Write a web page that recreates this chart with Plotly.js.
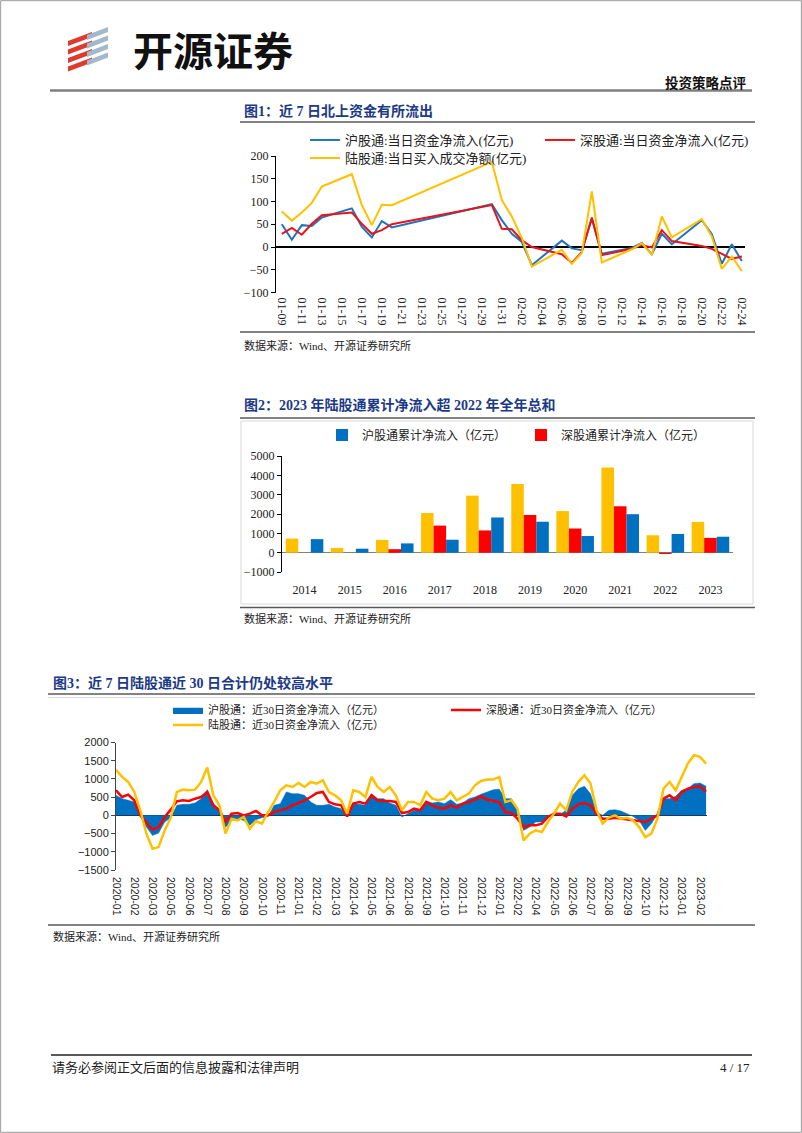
<!DOCTYPE html>
<html><head><meta charset="utf-8">
<script src="https://cdn.plot.ly/plotly-3.0.1.min.js"></script>
<style>html,body{margin:0;padding:0;background:#fff;}#page{width:802px;height:1133px;}</style>
</head><body><div id="page"></div>
<script>
// ---------- Chart 1 data: daily northbound net flows (亿元) ----------
const dates1 = ['2023-01-09','2023-01-10','2023-01-11','2023-01-12','2023-01-13','2023-01-16','2023-01-17','2023-01-18','2023-01-19','2023-01-20','2023-01-30','2023-01-31','2023-02-01','2023-02-02','2023-02-03','2023-02-06','2023-02-07','2023-02-08','2023-02-09','2023-02-10','2023-02-13','2023-02-14','2023-02-15','2023-02-16','2023-02-17','2023-02-20','2023-02-21','2023-02-22','2023-02-23','2023-02-24'];
const sh1 = [50,16,48,46,65,85,44,21,57,43,94,59,29,11,-40,14,-3,-7,62,-15,-2,9,-16,29,6,59,28,-37,6,-31];
const sz1 = [29,42,27,51,70,76,51,29,37,50,92,40,39,15,0,-16,-35,-11,65,-18,-4,4,-1,37,13,2,-4,-15,-26,-21];
const hk1 = [78,58,76,97,133,160,92,48,93,92,187,103,67,20,-43,-6,-37,-13,122,-34,-5,8,-17,67,21,61,23,-48,-21,-53];

// ---------- Chart 2 data: yearly cumulative net inflow (亿元) ----------
const years2 = ['2014','2015','2016','2017','2018','2019','2020','2021','2022','2023'];
const hk2 = [730,240,660,2050,2950,3550,2150,4400,900,1590];
const sz2 = [0,0,180,1400,1150,1950,1250,2400,-68,765];
const sh2 = [700,205,480,670,1820,1600,860,1990,968,825];

// ---------- Chart 3 data: rolling 30-day net inflow (亿元), sampled ----------
const sh3 = [550,458,413,367,-28,-321,-550,-486,-183,-64,275,303,303,339,458,706,321,138,-330,-138,-92,-138,-275,-119,-64,
  -28,275,321,642,596,596,550,367,275,275,303,229,183,0,321,303,275,596,458,458,339,275,-46,46,
  138,156,394,339,367,321,431,303,339,458,504,578,640,700,720,458,458,183,-413,-321,-183,-183,-46,46,
  28,138,550,733,797,596,92,0,138,156,119,46,-28,-138,-413,-229,28,458,458,523,688,733,871,889,800];
const sz3 = [688,504,568,413,0,-183,-394,-321,-46,156,385,413,394,458,504,642,275,138,-170,46,64,0,46,119,0,
  0,92,138,183,275,339,413,504,614,642,367,303,275,-28,321,367,321,550,413,394,394,367,64,92,
  183,138,367,275,211,183,275,211,321,367,431,523,430,400,360,92,64,-92,-320,-275,-275,-229,-46,46,
  46,-28,183,303,339,275,46,-92,-92,-64,-92,-119,-138,-156,-183,-92,0,458,550,413,642,733,779,797,650];
const hk3 = [1250,1055,917,642,138,-504,-917,-871,-413,-64,642,706,688,706,917,1311,550,275,-500,-92,-138,-46,-367,-156,-229,
  92,367,688,825,779,889,779,917,871,963,642,550,413,46,688,642,504,1055,779,642,779,550,138,367,
  367,275,642,458,413,458,642,413,504,596,825,944,981,981,1055,367,413,183,-688,-504,-413,-458,-183,46,
  321,138,642,917,1100,871,138,-229,-64,0,-92,-64,-138,-321,-596,-504,-92,733,917,688,1055,1421,1650,1605,1421];
const ticks3 = ['2020-01','2020-02','2020-03','2020-05','2020-06','2020-07','2020-08','2020-09','2020-10','2020-11',
  '2021-01','2021-02','2021-03','2021-04','2021-05','2021-06','2021-08','2021-09','2021-10','2021-11','2021-12',
  '2022-01','2022-02','2022-04','2022-05','2022-06','2022-07','2022-08','2022-09','2022-10','2022-12','2023-01','2023-02'];

// ---------- layout helpers (page pixel -> paper) ----------
const W = 802, H = 1133;
const px = x => x / W;
const py = y => 1 - y / H;
const SERIF = '"Liberation Serif","Noto Sans CJK SC",serif';
const SANS = '"Liberation Sans",Arial,"Noto Sans CJK SC",sans-serif';
const CJK = '"Noto Sans CJK SC",sans-serif';
const NAVY = '#1c3a87';
const zeroPos = (dom, rng) => dom[0] + (0 - rng[0]) / (rng[1] - rng[0]) * (dom[1] - dom[0]);

// axis geometry
const xd1 = [px(276), px(745)], yd1 = [py(292.5), py(156)], yr1 = [-100, 200];
const xr1 = ['2023-01-08 10:00', '2023-02-24 07:36'];
const xd2 = [px(282), px(733)], yd2 = [py(572), py(456)], yr2 = [-1000, 5000];
const xd3 = [px(116), px(707)], yd3 = [py(870), py(742.5)], yr3 = [-1500, 2000];
const xr3 = [0, 97.15];
const DAY = 86400000;

const traces = [
  {x: dates1, y: sh1, type: 'scatter', mode: 'lines', name: '沪股通:当日资金净流入(亿元)', line: {color: '#2173BD', width: 2}, xaxis: 'x', yaxis: 'y', legend: 'legend'},
  {x: dates1, y: sz1, type: 'scatter', mode: 'lines', name: '深股通:当日资金净流入(亿元)', line: {color: '#E8141B', width: 2}, xaxis: 'x', yaxis: 'y', legend: 'legend2'},
  {x: dates1, y: hk1, type: 'scatter', mode: 'lines', name: '陆股通:当日买入成交净额(亿元)', line: {color: '#FFC000', width: 2}, xaxis: 'x', yaxis: 'y', legend: 'legend3'},

  {x: years2, y: hk2, type: 'bar', name: '陆股通累计净流入（亿元）', marker: {color: '#FFC000'}, xaxis: 'x2', yaxis: 'y2', showlegend: false},
  {x: years2, y: sz2, type: 'bar', name: '深股通累计净流入（亿元）', marker: {color: '#FF0000'}, xaxis: 'x2', yaxis: 'y2', legend: 'legend5'},
  {x: years2, y: sh2, type: 'bar', name: '沪股通累计净流入（亿元）', marker: {color: '#0070C0'}, xaxis: 'x2', yaxis: 'y2', legend: 'legend4'},

  {y: sh3, type: 'scatter', mode: 'lines', fill: 'tozeroy', fillcolor: '#0070C0', line: {color: '#0070C0', width: 0.5}, name: '沪股通：近30日资金净流入（亿元）', xaxis: 'x3', yaxis: 'y3', legend: 'legend6'},
  {y: sz3, type: 'scatter', mode: 'lines', line: {color: '#FF0000', width: 2.5}, name: '深股通：近30日资金净流入（亿元）', xaxis: 'x3', yaxis: 'y3', legend: 'legend7'},
  {y: hk3, type: 'scatter', mode: 'lines', line: {color: '#FFC000', width: 2.5}, name: '陆股通：近30日资金净流入（亿元）', xaxis: 'x3', yaxis: 'y3', legend: 'legend8'}
];

function leg(xp, yp, size) {
  return {x: px(xp), y: py(yp), xanchor: 'left', yanchor: 'middle', bgcolor: 'rgba(0,0,0,0)', borderwidth: 0,
    font: {family: SERIF, size: size, color: '#222'}, orientation: 'v', itemwidth: 30};
}
function ann(text, xp, yp, opt) {
  return Object.assign({text: text, x: px(xp), y: py(yp), xref: 'paper', yref: 'paper', xanchor: 'left', yanchor: 'middle',
    showarrow: false, font: {family: SERIF, size: 11, color: '#222'}}, opt || {});
}
function hline(x0, x1, y, color, w) {
  return {type: 'line', xref: 'paper', yref: 'paper', x0: px(x0), x1: px(x1), y0: py(y), y1: py(y), line: {color: color, width: w}};
}
function poly(pts, color) {
  const d = pts.map((p, i) => (i ? 'L' : 'M') + px(p[0]) + ',' + py(p[1])).join(' ') + ' Z';
  return {type: 'path', xref: 'paper', yref: 'paper', path: d, fillcolor: color, line: {width: 0}};
}

const shapes = [
  {type: 'rect', xref: 'paper', yref: 'paper', x0: 0.0008, x1: 0.9992, y0: 0.0006, y1: 0.9994, line: {color: '#9a9a9a', width: 1}},
  hline(50, 752, 90.5, '#7f7f7f', 2.5),
  hline(240, 755, 122, '#595959', 1.5),
  hline(240, 755, 332, '#595959', 1.5),
  hline(240, 755, 418, '#595959', 1.5),
  {type: 'rect', xref: 'paper', yref: 'paper', x0: px(241), x1: px(753), y0: py(604), y1: py(421), line: {color: '#d9d9d9', width: 1}},
  hline(240, 755, 607.5, '#595959', 1.5),
  hline(48, 755, 694, '#595959', 1.5),
  hline(48, 755, 697.5, '#d9d9d9', 1),
  hline(48, 755, 925, '#595959', 1.5),
  hline(51, 752, 1055, '#222', 1.5)
];
// logo stripes
for (let k = 0; k < 4; k++) {
  const yb = 46 + k * 8.5;
  shapes.push(poly([[68, yb], [92, yb - 9], [92, yb - 14], [68, yb - 5]], '#DF3A2E'));
  const yb2 = 40 + k * 8.5;
  shapes.push(poly([[87, yb2], [108, yb2 - 8], [108, yb2 - 13], [87, yb2 - 5]], '#A3B9CB'));
}

const annotations = [
  ann('<b>开源证券</b>', 131, 49, {font: {family: CJK, size: 40, color: '#111'}}),
  ann('<b>投资策略点评</b>', 749, 82, {xanchor: 'right', font: {family: CJK, size: 13.5, color: '#111'}}),
  ann('<b>图1：近 7 日北上资金有所流出</b>', 242, 111, {font: {family: SERIF, size: 14, color: NAVY}}),
  ann('数据来源：Wind、开源证券研究所', 242, 345),
  ann('<b>图2：2023 年陆股通累计净流入超 2022 年全年总和</b>', 242, 405, {font: {family: SERIF, size: 14, color: NAVY}}),
  ann('数据来源：Wind、开源证券研究所', 242, 618),
  ann('<b>图3：近 7 日陆股通近 30 日合计仍处较高水平</b>', 51, 683, {font: {family: SERIF, size: 14, color: NAVY}}),
  ann('数据来源：Wind、开源证券研究所', 51, 937),
  ann('请务必参阅正文后面的信息披露和法律声明', 50, 1067, {font: {family: SERIF, size: 13, color: '#222'}}),
  ann('4 / 17', 752, 1067, {xanchor: 'right', font: {family: SERIF, size: 13, color: '#222'}})
];

const layout = {
  width: W, height: H, margin: {l: 0, r: 0, t: 0, b: 0}, paper_bgcolor: '#fff', plot_bgcolor: 'rgba(0,0,0,0)',
  font: {family: SERIF, size: 12, color: '#222'}, showlegend: true,
  barmode: 'group', bargap: 0.167, bargroupgap: 0,
  // chart 1
  xaxis: {domain: xd1, anchor: 'y', type: 'date', range: xr1, tick0: '2023-01-09', dtick: 2 * DAY, tickformat: '%m-%d',
    tickangle: 90, ticks: '', showline: false, showgrid: false, zeroline: false, ticklabelstandoff: 4,
    tickfont: {family: SERIF, size: 12, color: '#222'}},
  yaxis: {domain: yd1, anchor: 'x', range: yr1, dtick: 50, showline: true, linecolor: '#000', linewidth: 1,
    ticks: 'outside', ticklen: 4, tickcolor: '#000', showgrid: false, zeroline: true, zerolinecolor: '#000', zerolinewidth: 1.5,
    tickfont: {family: SERIF, size: 12, color: '#222'}},
  xaxis4: {overlaying: 'x', anchor: 'free', position: zeroPos(yd1, yr1), type: 'date', range: xr1, tick0: '2023-01-09', dtick: 2 * DAY,
    ticks: 'inside', ticklen: 4, tickcolor: '#000', showticklabels: false, showline: false, showgrid: false, zeroline: false},
  // chart 2
  xaxis2: {domain: xd2, anchor: 'y2', type: 'category', ticks: '', showline: false, showgrid: false, zeroline: false,
    ticklabelstandoff: 9, tickfont: {family: SERIF, size: 12, color: '#222'}},
  yaxis2: {domain: yd2, anchor: 'x2', range: yr2, dtick: 1000, showline: true, linecolor: '#000', linewidth: 1,
    ticks: 'outside', ticklen: 4, tickcolor: '#000', showgrid: false, zeroline: true, zerolinecolor: '#808080', zerolinewidth: 1.5,
    tickfont: {family: SERIF, size: 12, color: '#222'}},
  xaxis5: {overlaying: 'x2', anchor: 'free', position: zeroPos(yd2, yr2), type: 'linear', range: [-0.5, years2.length - 0.5],
    tick0: 0.5, dtick: 1, ticks: 'outside', ticklen: 4, tickcolor: '#808080', showticklabels: false, showline: false, showgrid: false, zeroline: false},
  // chart 3
  xaxis3: {domain: xd3, anchor: 'y3', type: 'linear', range: xr3, tickmode: 'array', tickvals: ticks3.map((_, k) => k * 3), ticktext: ticks3,
    tickangle: 90, ticks: '', showline: false, showgrid: false, zeroline: false, ticklabelstandoff: 6,
    tickfont: {family: SANS, size: 10.5, color: '#222'}},
  yaxis3: {domain: yd3, anchor: 'x3', range: yr3, dtick: 500, showline: true, linecolor: '#444', linewidth: 1,
    ticks: 'outside', ticklen: 4, tickcolor: '#444', showgrid: false, zeroline: true, zerolinecolor: '#1a2a4a', zerolinewidth: 1.2,
    tickfont: {family: SANS, size: 11, color: '#222'}},
  xaxis6: {overlaying: 'x3', anchor: 'free', position: zeroPos(yd3, yr3), type: 'linear', range: xr3, tick0: 0, dtick: 3,
    ticks: 'inside', ticklen: 4, tickcolor: '#000', showticklabels: false, showline: false, showgrid: false, zeroline: false},
  legend: leg(305, 140, 13),
  legend2: leg(540, 140, 13),
  legend3: leg(305, 158, 13),
  legend4: leg(322, 435, 12),
  legend5: leg(521, 435, 12),
  legend6: leg(168, 710, 11),
  legend7: leg(446, 710, 11),
  legend8: leg(168, 725, 11),
  shapes: shapes,
  annotations: annotations
};

Plotly.newPlot('page', traces, layout, {staticPlot: true, displayModeBar: false});
</script>
</body></html>
